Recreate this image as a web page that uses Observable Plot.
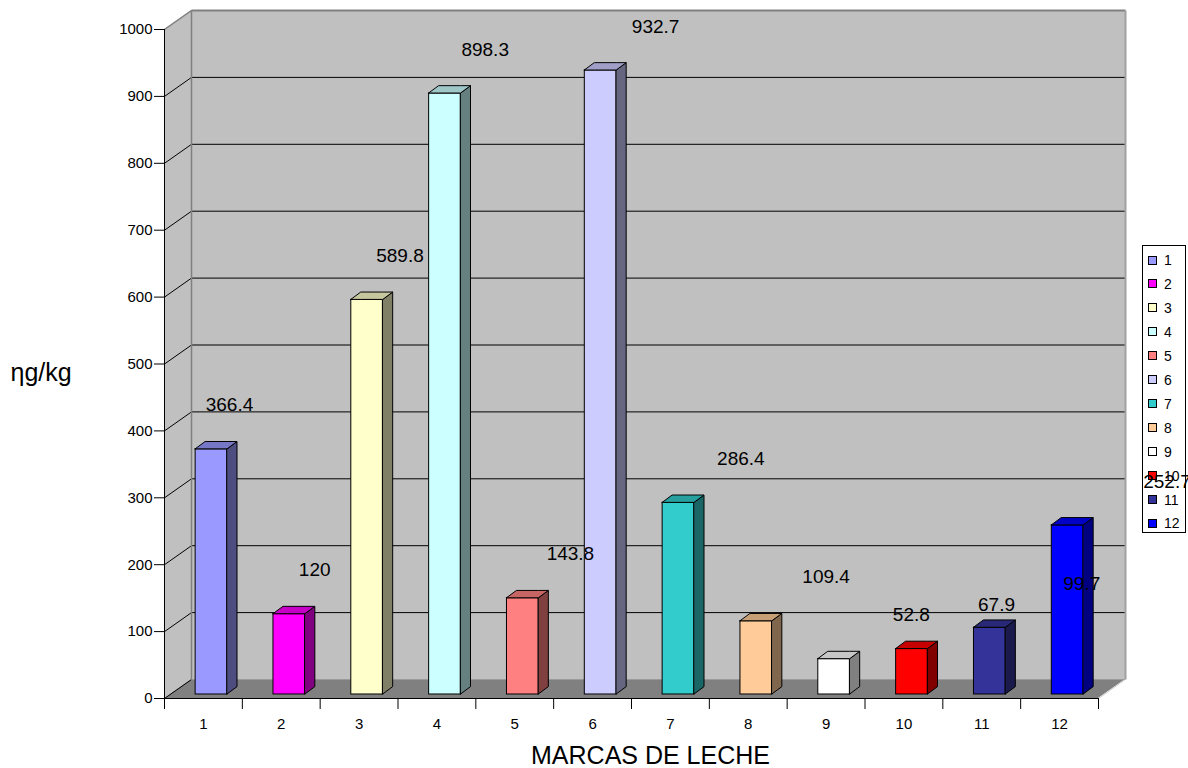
<!DOCTYPE html>
<html>
<head>
<meta charset="utf-8">
<script src="https://cdn.jsdelivr.net/npm/d3@7"></script>
<script src="https://cdn.jsdelivr.net/npm/@observablehq/plot@0.6"></script>
<style>
  body { margin: 0; background: #fff; font-family: "Liberation Sans", Arial, sans-serif; }
  #wrap { position: relative; width: 1188px; height: 768px; }
  #legend { position: absolute; left: 1142px; top: 245px; width: 42px; height: 286px;
            border: 1px solid #000; background: #fff; z-index: 0; }
  #legend .sw { position: absolute; left: 5px; width: 7px; height: 7px; border: 1px solid #000; }
  #legend .lb { position: absolute; left: 21px; font-size: 14px; line-height: 16px; color: #000; }
  #chart { position: absolute; left: 0; top: 0; z-index: 1; }
</style>
</head>
<body>
<div id="wrap">
  <div id="legend"></div>
  <div id="chart"></div>
</div>
<script>
// Milk brands and their measured concentration (ng/kg)
const categories = ["1", "2", "3", "4", "5", "6", "7", "8", "9", "10", "11", "12"];
const values = [366.4, 120, 589.8, 898.3, 143.8, 932.7, 286.4, 109.4, 52.8, 67.9, 99.7, 252.7];
const colors = ["#9999FF", "#FF00FF", "#FFFFCC", "#CCFFFF", "#FF8080", "#CCCCFF",
                "#33CCCC", "#FFCC99", "#FFFFFF", "#FF0000", "#333399", "#0000FF"];
const yTicks = [0, 100, 200, 300, 400, 500, 600, 700, 800, 900, 1000];
const xTitle = "MARCAS DE LECHE";
const yTitle = "ηg/kg";

// 3D box geometry, in scale units
const WX = 0.347, WY = 28.4;     // depth of the walls / floor
const BX0 = 0.40, BX1 = 0.81;    // front face of a bar within its band
const BASE = 6;                  // bars stand slightly behind the front edge
const DX = 0.128, DY = 11;       // depth of each bar

const shade = (c, f) => { const r = d3.rgb(c); return d3.rgb(r.r * f, r.g * f, r.b * f).formatHex(); };

const bars = categories.map((c, k) => ({
  i: k + 1, cat: c, v: values[k], color: colors[k],
  x1: k + BX0, x2: k + BX1
}));

// side and top faces as closed areas
const sides = bars.flatMap(b => [
  {id: b.i, x: b.x2, y1: BASE, y2: BASE + b.v, fill: shade(b.color, 0.5)},
  {id: b.i, x: b.x2 + DX, y1: BASE + DY, y2: BASE + b.v + DY, fill: shade(b.color, 0.5)}
]);
const tops = bars.flatMap(b => {
  const t = BASE + b.v, f = shade(b.color, 0.78);
  return [
    {id: b.i, x: b.x1, y1: t, y2: t, fill: f},
    {id: b.i, x: b.x1 + DX, y1: t, y2: t + DY, fill: f},
    {id: b.i, x: b.x2, y1: t, y2: t + DY, fill: f},
    {id: b.i, x: b.x2 + DX, y1: t + DY, y2: t + DY, fill: f}
  ];
});

const n = categories.length;
const yMax = yTicks[yTicks.length - 1];
const sideWall = [{x: 0, y1: 0, y2: yMax}, {x: WX, y1: WY, y2: yMax + WY}];
const floor = [
  {x: 0, y1: 0, y2: 0}, {x: WX, y1: 0, y2: WY},
  {x: n, y1: 0, y2: WY}, {x: n + WX, y1: WY, y2: WY}
];

const chart = Plot.plot({
  width: 1188,
  height: 768,
  marginLeft: 164,
  marginRight: 90,
  marginTop: 29,
  marginBottom: 70,
  x: {domain: [0, n], label: null},
  y: {domain: [0, yMax], label: null},
  style: {background: "transparent", fontFamily: "'Liberation Sans', Arial, sans-serif", fontSize: "15px", color: "#000", overflow: "visible"},
  marks: [
    // walls and floor
    Plot.area(sideWall, {x1: "x", y1: "y1", y2: "y2", fill: "#C0C0C0"}),
    Plot.rect([0], {x1: () => WX, x2: () => n + WX, y1: () => WY, y2: () => yMax + WY, fill: "#C0C0C0"}),
    Plot.area(floor, {x1: "x", y1: "y1", y2: "y2", fill: "#808080"}),
    // gridlines on the back wall and the side wall
    Plot.link(yTicks.filter(v => v > 0 && v < yMax), {x1: () => WX, x2: () => n + WX, y1: v => v + WY, y2: v => v + WY, stroke: "#000", strokeWidth: 1}),
    Plot.link(yTicks.filter(v => v < yMax), {x1: () => 0, y1: v => v, x2: () => WX, y2: v => v + WY, stroke: "#000", strokeWidth: 1}),
    Plot.link([yMax], {x1: () => 0, y1: v => v, x2: () => WX, y2: v => v + WY, stroke: "#808080", strokeWidth: 1.5}),
    Plot.link([yMax], {x1: () => WX, x2: () => n + WX, y1: v => v + WY, y2: v => v + WY, stroke: "#808080", strokeWidth: 2}),
    Plot.link([0], {x1: () => WX, x2: () => WX, y1: () => WY, y2: () => yMax + WY, stroke: "#808080", strokeWidth: 1.5}),
    Plot.link([0], {x1: () => n + WX, x2: () => n + WX, y1: () => WY, y2: () => yMax + WY, stroke: "#A0A0A0", strokeWidth: 2}),
    Plot.link([0], {x1: () => WX, x2: () => n + WX, y1: () => WY, y2: () => WY, stroke: "#9A9A9A", strokeWidth: 1}),
    Plot.link([0], {x1: () => n, x2: () => n + WX, y1: () => 0, y2: () => WY, stroke: "#D0D0D0", strokeWidth: 1}),
    // axis lines
    Plot.ruleX([0], {stroke: "#000"}),
    Plot.ruleY([0], {stroke: "#000"}),
    // bars
    Plot.rect(bars, {x1: "x1", x2: "x2", y1: () => BASE, y2: d => BASE + d.v, fill: "color", stroke: "#000", strokeWidth: 1}),
    Plot.area(sides, {x1: "x", y1: "y1", y2: "y2", z: "id", fill: "fill", stroke: "#000", strokeWidth: 1}),
    Plot.area(tops, {x1: "x", y1: "y1", y2: "y2", z: "id", fill: "fill", stroke: "#000", strokeWidth: 1}),
    // value labels
    Plot.text(bars, {
      x: d => d.i - 1 + 0.74 + 0.095 * d.i,
      y: d => BASE + d.v,
      dy: -44,
      text: d => String(d.v),
      fontSize: 19,
      fill: "#000"
    }),
    // axes
    Plot.axisY({ticks: yTicks, tickSize: 10, tickPadding: 2, tickFormat: d => String(d), fontSize: 15}),
    Plot.axisX({ticks: d3.range(0, n + 1), tickSize: 11, tickFormat: () => ""}),
    Plot.axisX({ticks: categories.map((c, k) => k + 0.5), tickSize: 0, tickPadding: 20,
                tickFormat: d => categories[Math.floor(d)], fontSize: 15}),
    // axis titles
    Plot.text([xTitle], {text: d => d, frameAnchor: "bottom", lineAnchor: "middle", textAnchor: "middle", dx: 19, dy: 57, fontSize: 25}),
    Plot.text([yTitle], {text: d => d, frameAnchor: "left", lineAnchor: "middle", textAnchor: "start", dx: -154, dy: 8.5, fontSize: 25})
  ]
});
document.getElementById("chart").appendChild(chart);

// legend: one swatch per brand
const legend = d3.select("#legend");
categories.forEach((c, k) => {
  const cy = 14 + k * 23.95;
  legend.append("div").attr("class", "sw").style("top", (cy - 4.5) + "px").style("background", colors[k]);
  legend.append("div").attr("class", "lb").style("top", (cy - 8) + "px").text(c);
});
</script>
</body>
</html>
